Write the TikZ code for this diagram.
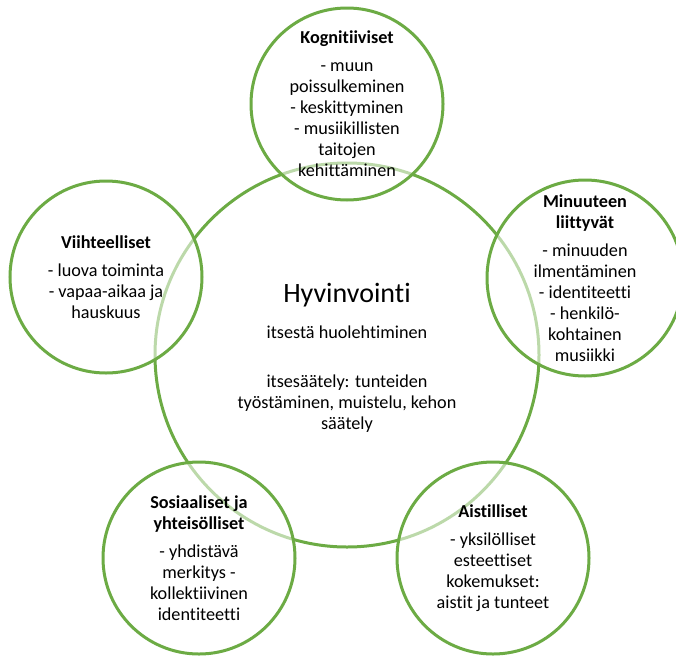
\documentclass[tikz,border=0pt]{standalone}
\usepackage{fontspec}
\setmainfont[Ligatures={NoCommon}]{Carlito}
\definecolor{ringgreen}{HTML}{6CAB44}
\begin{document}
\begin{tikzpicture}[x=1pt,y=-1pt,
  ring/.style={circle, draw=ringgreen, line width=3pt, inner sep=0pt},
  petal/.style={ring, minimum size=192pt, fill=white, fill opacity=0.55,
    text opacity=1, align=center, font=\fontsize{18.2}{21}\selectfont},
  hubtitle/.style={font=\fontsize{28}{33}\selectfont},
  hubtext/.style={align=center, font=\fontsize{18.2}{21}\selectfont}]
\useasboundingbox (0,0) rectangle (676,656);
\clip (0,0) rectangle (676,656);

% central circle
\node[ring, minimum size=384pt] (hub) at (347,355) {};
\node[hubtitle] (hubname) at (347,295) {Hyvinvointi};
\node[hubtext] (hubbody) at (347,379)
  {itsestä huolehtiminen\\[28pt]itsesäätely: tunteiden\\työstäminen, muistelu, kehon\\säätely};

% five surrounding circles
\node[petal] (kog) at (347,104)
  {\textbf{Kognitiiviset}\\[7pt]- muun\\poissulkeminen\\- keskittyminen\\- musiikillisten\\taitojen\\kehittäminen};
\node[petal] (viih) at (106,277)
  {\textbf{Viihteelliset}\\[7pt]- luova toiminta\\- vapaa-aikaa ja\\hauskuus};
\node[petal] (minu) at (585,278)
  {\textbf{Minuuteen}\\\textbf{liittyvät}\\[7pt]- minuuden\\ilmentäminen\\- identiteetti\\- henkilö-\\kohtainen\\musiikki};
\node[petal] (sos) at (199,558)
  {\textbf{Sosiaaliset ja}\\\textbf{yhteisölliset}\\[7pt]- yhdistävä\\merkitys -\\kollektiivinen\\identiteetti};
\node[petal] (ais) at (493,558)
  {\textbf{Aistilliset}\\[7pt]- yksilölliset\\esteettiset\\kokemukset:\\aistit ja tunteet};
\end{tikzpicture}
\end{document}
